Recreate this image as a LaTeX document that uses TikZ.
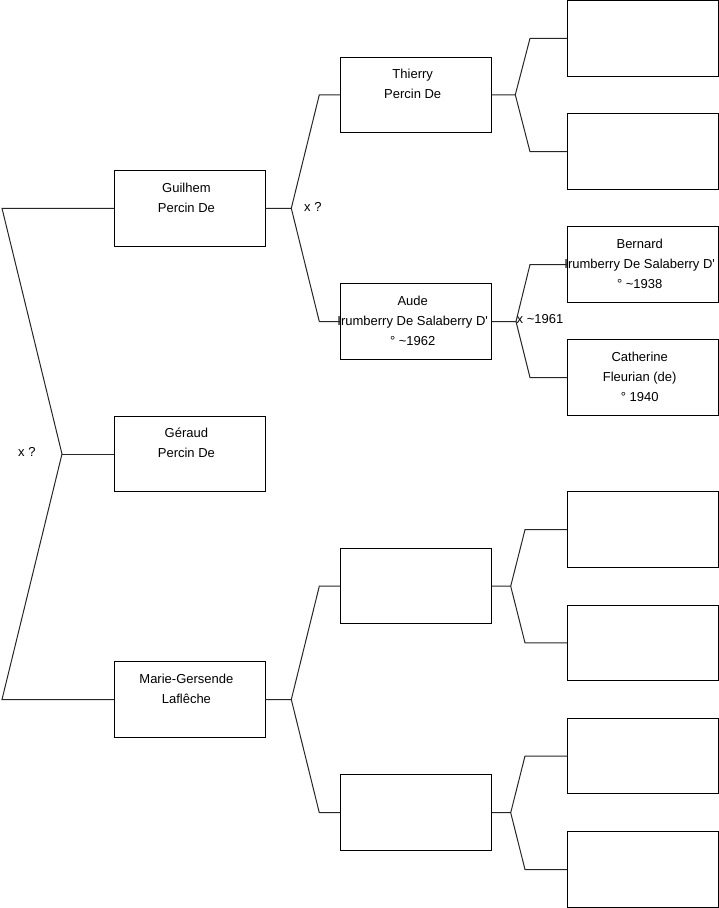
\documentclass[tikz,border=0pt]{standalone}
\usepackage{fontspec}
\setmainfont{Liberation Sans}
\begin{document}
\begin{tikzpicture}[x=1pt,y=-1pt,
  box/.style={draw=black, line width=1pt, minimum width=151.4pt, minimum height=75.5pt, inner sep=0pt, outer sep=0pt},
  txt/.style={anchor=north, inner sep=0pt, align=center, font=\fontsize{13}{20}\selectfont},
  conn/.style={draw=black!85, line width=1pt},
  lbl/.style={anchor=base west, inner sep=0pt, font=\fontsize{13}{16}\selectfont}]
\useasboundingbox (0,0) rectangle (719,908);

% boxes column 1
\node[box] (g)  at (189.7,208.3) {};
\node[box] (ge) at (189.7,454) {};
\node[box] (m)  at (189.7,699.5) {};
% column 2
\node[box] (t)  at (416,94.8) {};
\node[box] (a)  at (416,321.5) {};
\node[box] (b1) at (416,586.2) {};
\node[box] (b2) at (416,812.7) {};
% column 3
\node[box] (t1) at (643,38.3) {};
\node[box] (t2) at (643,151.7) {};
\node[box] (be) at (643,264.5) {};
\node[box] (ca) at (643,377.5) {};
\node[box] (m1) at (643,529.7) {};
\node[box] (m2) at (643,642.8) {};
\node[box] (m3) at (643,756) {};
\node[box] (m4) at (643,869.5) {};

% texts
\node[txt] (gt)  at ([xshift=-3.3pt,yshift=-7.5pt]g.north)  {\rule{0pt}{14pt}Guilhem\\Percin De};
\node[txt] (get) at ([xshift=-3.3pt,yshift=-7.5pt]ge.north) {\rule{0pt}{14pt}Géraud\\Percin De};
\node[txt] (mt)  at ([xshift=-3.3pt,yshift=-7.5pt]m.north)  {\rule{0pt}{14pt}Marie-Gersende\\Laflêche};
\node[txt] (tt)  at ([xshift=-3.3pt,yshift=-7.5pt]t.north)  {\rule{0pt}{14pt}Thierry\\Percin De};
\node[txt] (at)  at ([xshift=-3.3pt,yshift=-7.5pt]a.north)  {\rule{0pt}{14pt}Aude\\Irumberry De Salaberry D\textquotesingle\\° \textasciitilde1962};
\node[txt] (bet) at ([xshift=-3.3pt,yshift=-7.5pt]be.north) {\rule{0pt}{14pt}Bernard\\Irumberry De Salaberry D\textquotesingle\\° \textasciitilde1938};
\node[txt] (cat) at ([xshift=-3.3pt,yshift=-7.5pt]ca.north) {\rule{0pt}{14pt}Catherine\\Fleurian (de)\\° 1940};

% connector coordinates
\coordinate (r1) at (2,208.3);
\coordinate (rv) at (62,454);
\coordinate (r2) at (2,699.5);
\coordinate (gv) at (291.3,208.3);
\coordinate (gu) at (319.3,94.8);
\coordinate (gd) at (319.3,321.5);
\coordinate (tv) at (515.3,94.8);
\coordinate (tu) at (530,38.3);
\coordinate (td) at (530,151.7);
\coordinate (av) at (516,321.5);
\coordinate (au) at (530,264.5);
\coordinate (ad) at (530,377.5);
\coordinate (mv) at (291.3,699.5);
\coordinate (mu) at (319.3,586.2);
\coordinate (md) at (319.3,812.7);
\coordinate (b1v) at (510.7,586.2);
\coordinate (b1u) at (525,529.7);
\coordinate (b1d) at (525,642.8);
\coordinate (b2v) at (510.7,812.7);
\coordinate (b2u) at (525,756);
\coordinate (b2d) at (525,869.5);

% connectors
\draw[conn] (g.west) -- (r1) -- (rv) -- (r2) -- (m.west);
\draw[conn] (rv) -- (ge.west);
\draw[conn] (g.east) -- (gv) -- (gu) -- (t.west);
\draw[conn] (gv) -- (gd) -- (a.west);
\draw[conn] (t.east) -- (tv) -- (tu) -- (t1.west);
\draw[conn] (tv) -- (td) -- (t2.west);
\draw[conn] (a.east) -- (av) -- (au) -- (be.west);
\draw[conn] (av) -- (ad) -- (ca.west);
\draw[conn] (m.east) -- (mv) -- (mu) -- (b1.west);
\draw[conn] (mv) -- (md) -- (b2.west);
\draw[conn] (b1.east) -- (b1v) -- (b1u) -- (m1.west);
\draw[conn] (b1v) -- (b1d) -- (m2.west);
\draw[conn] (b2.east) -- (b2v) -- (b2u) -- (m3.west);
\draw[conn] (b2v) -- (b2d) -- (m4.west);

% labels
\node[lbl] (l1) at (18,456) {x ?};
\node[lbl] (l2) at (304,211) {x ?};
\node[lbl] (l3) at (516.5,323.5) {x \textasciitilde1961};
\end{tikzpicture}
\end{document}
